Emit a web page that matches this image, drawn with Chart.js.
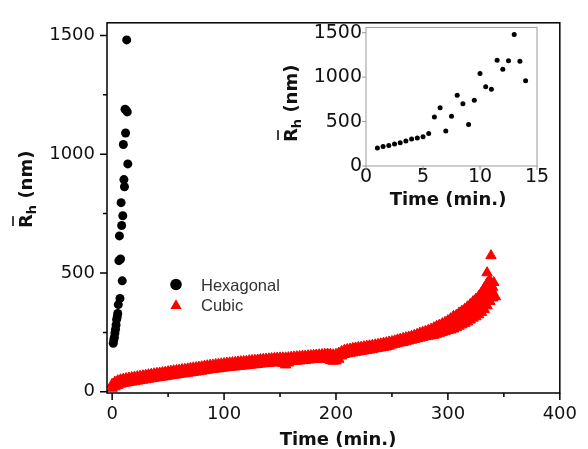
<!DOCTYPE html>
<html>
<head>
<meta charset="utf-8">
<script src="https://cdn.jsdelivr.net/npm/chart.js@4.4.1/dist/chart.umd.min.js"></script>
<style>
  html, body { margin: 0; padding: 0; background: #fff; }
  #wrap { position: relative; width: 588px; height: 449px; }
  #main { position: absolute; left: 0; top: 0; }
  #inset { position: absolute; left: 262px; top: 12px; }
</style>
</head>
<body>
<div id="wrap">
  <canvas id="main" width="588" height="449"></canvas>
  <canvas id="inset" width="296" height="206"></canvas>
</div>
<script>
// hexagonal: time (min) vs mean hydrodynamic radius (nm)
var hexTime = [1, 1.5, 2, 2.5, 3, 3.5, 4, 4.5, 5, 5.5, 6, 6.5, 7, 7.5, 8, 8.5, 9, 9.5, 10, 10.5, 11, 11.5, 12, 12.5, 13, 13.5, 14];
var hexRadius = [204, 219, 230, 248, 263, 281, 304, 315, 330, 367, 552, 656, 393, 559, 796, 700, 467, 741, 1041, 893, 863, 1189, 1089, 1185, 1481, 1178, 959];

// cubic: dense band of triangles, read as upper and lower edge of the scatter every 2.5 min
var cubicTime = [
  0, 2.5, 5, 7.5, 10, 12.5, 15, 17.5, 20, 22.5,
  25, 27.5, 30, 32.5, 35, 37.5, 40, 42.5, 45, 47.5,
  50, 52.5, 55, 57.5, 60, 62.5, 65, 67.5, 70, 72.5,
  75, 77.5, 80, 82.5, 85, 87.5, 90, 92.5, 95, 97.5,
  100, 102.5, 105, 107.5, 110, 112.5, 115, 117.5, 120, 122.5,
  125, 127.5, 130, 132.5, 135, 137.5, 140, 142.5, 145, 147.5,
  150, 152.5, 155, 157.5, 160, 162.5, 165, 167.5, 170, 172.5,
  175, 177.5, 180, 182.5, 185, 187.5, 190, 192.5, 195, 197.5,
  200, 202.5, 205, 207.5, 210, 212.5, 215, 217.5, 220, 222.5,
  225, 227.5, 230, 232.5, 235, 237.5, 240, 242.5, 245, 247.5,
  250, 252.5, 255, 257.5, 260, 262.5, 265, 267.5, 270, 272.5,
  275, 277.5, 280, 282.5, 285, 287.5, 290, 292.5, 295, 297.5,
  300, 302.5, 305, 307.5, 310, 312.5, 315, 317.5, 320, 322.5,
  325, 327.5, 330, 332.5, 335, 337.5, 340];
var cubicUpper = [
  32, 41, 47, 51, 54, 56, 58, 60, 62, 64,
  66, 68, 70, 72, 74, 76, 78, 79, 81, 83,
  85, 87, 89, 90, 92, 94, 95, 97, 99, 101,
  102, 104, 106, 108, 110, 112, 113, 115, 116, 118,
  119, 121, 122, 123, 124, 126, 127, 128, 129, 131,
  132, 133, 134, 136, 137, 138, 139, 140, 141, 142,
  143, 143, 143, 144, 146, 147, 148, 149, 150, 151,
  152, 153, 154, 155, 156, 157, 158, 159, 158, 156,
  158, 163, 170, 175, 178, 180, 183, 185, 187, 188,
  190, 192, 194, 196, 198, 200, 202, 205, 207, 210,
  212, 215, 219, 222, 225, 228, 231, 234, 238, 242,
  247, 251, 255, 259, 264, 270, 276, 281, 287, 293,
  300, 308, 318, 322, 332, 340, 348, 358, 368, 380,
  390, 402, 418, 436, 456, 470, 440];
var cubicLower = [
  15, 21, 27, 32, 35, 37, 39, 41, 43, 45,
  47, 49, 51, 53, 55, 57, 59, 60, 62, 64,
  66, 68, 70, 71, 73, 75, 76, 78, 80, 82,
  83, 85, 87, 89, 91, 93, 94, 96, 97, 99,
  100, 102, 103, 104, 105, 107, 108, 109, 110, 112,
  113, 114, 115, 117, 118, 119, 120, 121, 122, 123,
  124, 119, 113, 121, 127, 128, 129, 130, 131, 132,
  134, 135, 136, 137, 138, 139, 139, 136, 131, 129,
  130, 137, 151, 157, 160, 162, 164, 166, 168, 170,
  172, 174, 176, 178, 181, 183, 185, 187, 189, 192,
  197, 200, 203, 206, 208, 211, 214, 217, 220, 223,
  226, 229, 232, 234, 236, 238, 242, 246, 250, 254,
  258, 260, 264, 270, 276, 282, 288, 294, 302, 310,
  316, 324, 334, 346, 362, 380, 395];
// the band widens near the end: a middle row of the scatter
var cubicMidTime = [285, 287.5, 290, 292.5, 295, 297.5, 300, 302.5, 305, 307.5, 310, 312.5,
  315, 317.5, 320, 322.5, 325, 327.5, 330, 332.5, 335, 337.5, 340];
var cubicMid = [250, 254, 259, 263, 268, 273, 279, 284, 291, 296, 304, 311,
  318, 326, 335, 345, 353, 363, 376, 391, 409, 425, 418];
// a few loose points at the very end
var cubicTailTime = [335, 337, 338.5, 339, 341, 342.5];
var cubicTailRadius = [501, 470, 573, 430, 460, 400];

var mainXMajor = [0, 100, 200, 300, 400];
var mainXMinor = [50, 150, 250, 350];
var mainYMajor = [0, 500, 1000, 1500];
var mainYMinor = [250, 750, 1250];
var insetXMajor = [0, 5, 10, 15];
var insetYMajor = [0, 500, 1000, 1500];

var FONT = '"DejaVu Sans", sans-serif';
Chart.defaults.font.family = FONT;
Chart.defaults.color = '#111';

function pts(xs, ys) {
  return xs.map(function (x, i) { return { x: x, y: ys[i] }; });
}

// R-bar with subscript h, rotated, drawn from its baseline start point
function drawRhTitle(ctx, bx, by, size) {
  ctx.save();
  ctx.translate(bx, by);
  ctx.rotate(-Math.PI / 2);
  ctx.fillStyle = '#111';
  ctx.textAlign = 'left';
  ctx.textBaseline = 'alphabetic';
  ctx.font = 'bold ' + size + 'px ' + FONT;
  ctx.fillText('R', 0, 0);
  var w = ctx.measureText('R').width;
  ctx.fillRect(2, -size * 1.1, w - 4, 1.6);
  ctx.font = 'bold ' + Math.round(size * 0.72) + 'px ' + FONT;
  ctx.fillText('h', w, size * 0.22);
  w += ctx.measureText('h').width;
  ctx.font = 'bold ' + size + 'px ' + FONT;
  ctx.fillText(' (nm)', w, 0);
  ctx.restore();
}

function frameAndTicks(cfg) {
  return {
    id: 'frameAndTicks',
    afterDatasetsDraw: function (chart) {
      var ctx = chart.ctx, a = chart.chartArea;
      var xs = chart.scales.x, ys = chart.scales.y;
      ctx.save();
      ctx.strokeStyle = cfg.color;
      ctx.lineWidth = cfg.width;
      ctx.strokeRect(a.left, a.top, a.right - a.left, a.bottom - a.top);
      ctx.beginPath();
      function xt(v, len) { var p = xs.getPixelForValue(v); ctx.moveTo(p, a.bottom); ctx.lineTo(p, a.bottom + len); }
      function yt(v, len) { var p = ys.getPixelForValue(v); ctx.moveTo(a.left, p); ctx.lineTo(a.left - len, p); }
      cfg.xMajor.forEach(function (v) { xt(v, cfg.major); });
      (cfg.xMinor || []).forEach(function (v) { xt(v, cfg.minor); });
      cfg.yMajor.forEach(function (v) { yt(v, cfg.major); });
      (cfg.yMinor || []).forEach(function (v) { yt(v, cfg.minor); });
      ctx.stroke();
      ctx.restore();
    },
    afterDraw: function (chart) {
      var ctx = chart.ctx;
      ctx.save();
      ctx.fillStyle = '#111';
      ctx.font = 'bold 18px ' + FONT;
      ctx.textAlign = 'center';
      ctx.textBaseline = 'alphabetic';
      ctx.fillText('Time (min.)', cfg.xTitle[0], cfg.xTitle[1]);
      ctx.restore();
      drawRhTitle(ctx, cfg.yTitle[0], cfg.yTitle[1], 18);
      if (cfg.legend) cfg.legend(ctx);
    }
  };
}

function mainLegend(ctx) {
  ctx.save();
  ctx.fillStyle = '#000';
  ctx.beginPath();
  ctx.arc(176, 284.5, 5.8, 0, Math.PI * 2);
  ctx.fill();
  ctx.fillStyle = '#ff0000';
  ctx.beginPath();
  var r = 6.5, cx = 176, cy = 305.8;
  ctx.moveTo(cx, cy - r);
  ctx.lineTo(cx + r * Math.sin(2 * Math.PI / 3), cy + r / 2);
  ctx.lineTo(cx - r * Math.sin(2 * Math.PI / 3), cy + r / 2);
  ctx.closePath();
  ctx.fill();
  ctx.fillStyle = '#333';
  ctx.font = '16.5px "Liberation Sans", Arial, sans-serif';
  ctx.textAlign = 'left';
  ctx.textBaseline = 'alphabetic';
  ctx.fillText('Hexagonal', 201, 290.7);
  ctx.fillText('Cubic', 201, 310.5);
  ctx.restore();
}

function axisCommon(majors, fontSize, pad) {
  return {
    type: 'linear',
    grid: { display: false, drawTicks: false },
    border: { display: false },
    afterBuildTicks: function (s) { s.ticks = majors.map(function (v) { return { value: v }; }); },
    ticks: {
      font: { size: fontSize }, color: '#111', padding: pad, maxRotation: 0, autoSkip: false,
      callback: function (v) { return String(v); }
    }
  };
}

var cubicData = pts(cubicTime, cubicLower).concat(
  pts(cubicMidTime, cubicMid),
  pts(cubicTime, cubicUpper),
  pts(cubicTailTime, cubicTailRadius));

var mx = axisCommon(mainXMajor, 18, 11);
mx.min = -4.6; mx.max = 400;
mx.afterFit = function (s) { s.height = 56; };
var my = axisCommon(mainYMajor, 18, 12);
my.min = -5; my.max = 1553;
my.afterFit = function (s) { s.width = 107; };

new Chart(document.getElementById('main').getContext('2d'), {
  type: 'scatter',
  data: {
    datasets: [
      {
        label: 'Cubic',
        data: cubicData,
        pointStyle: 'triangle',
        pointRadius: 6,
        pointBorderWidth: 1,
        backgroundColor: '#ff0000',
        borderColor: '#ff0000'
      },
      {
        label: 'Hexagonal',
        data: pts(hexTime, hexRadius),
        pointStyle: 'circle',
        pointRadius: 4.5,
        pointBorderWidth: 0,
        backgroundColor: '#000',
        borderColor: '#000'
      }
    ]
  },
  options: {
    responsive: false,
    animation: false,
    layout: { padding: { top: 14, right: 20, left: 0, bottom: 0 } },
    plugins: { legend: { display: false }, tooltip: { enabled: false } },
    scales: { x: mx, y: my }
  },
  plugins: [frameAndTicks({
    color: '#000', width: 1.5, major: 7, minor: 4,
    xMajor: mainXMajor, xMinor: mainXMinor, yMajor: mainYMajor, yMinor: mainYMinor,
    xTitle: [338, 445], yTitle: [32, 228], legend: mainLegend
  })]
});

var ix = axisCommon(insetXMajor, 19, 0);
ix.min = 0; ix.max = 15;
ix.afterFit = function (s) { s.height = 52; };
var iy = axisCommon(insetYMajor, 19, 4);
iy.min = 0; iy.max = 1560;
iy.afterFit = function (s) { s.width = 104; };

new Chart(document.getElementById('inset').getContext('2d'), {
  type: 'scatter',
  data: {
    datasets: [{
      label: 'Hexagonal',
      data: pts(hexTime, hexRadius),
      pointStyle: 'circle',
      pointRadius: 2.5,
      pointBorderWidth: 0,
      backgroundColor: '#000'
    }]
  },
  options: {
    responsive: false,
    animation: false,
    layout: { padding: { top: 13, right: 21, left: 0, bottom: 0 } },
    plugins: { legend: { display: false }, tooltip: { enabled: false } },
    scales: { x: ix, y: iy }
  },
  plugins: [frameAndTicks({
    color: '#999', width: 1, major: 4, minor: 0,
    xMajor: insetXMajor, yMajor: insetYMajor,
    xTitle: [186, 193], yTitle: [35, 130]
  })]
});
</script>
</body>
</html>
